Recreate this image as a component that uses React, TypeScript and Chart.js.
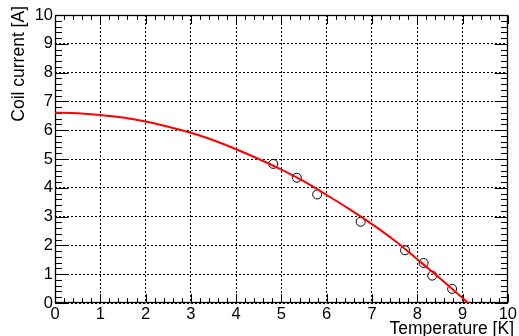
import React, { useEffect, useRef } from "react";
import { Chart, registerables } from "chart.js";

Chart.register(...registerables);

// Fit curve
const T_CURVE = [0, 0.5, 1, 1.5, 2, 2.5, 3, 3.5, 4, 4.5, 5, 5.5, 6, 6.5, 7, 7.5, 8, 8.5, 9, 9.12];
const I_CURVE = [6.61, 6.59, 6.53, 6.44, 6.3, 6.12, 5.91, 5.65, 5.34, 5.0, 4.63, 4.22, 3.75, 3.26, 2.74, 2.17, 1.52, 0.86, 0.17, 0];

// Measured points
const T_MEAS = [4.82, 5.34, 5.79, 6.75, 7.73, 8.14, 8.33, 8.77];
const I_MEAS = [4.83, 4.35, 3.77, 2.82, 1.83, 1.39, 0.95, 0.49];

const X_TITLE = "Temperature [K]";
const Y_TITLE = "Coil current [A]";
const AXIS_MIN = 0;
const AXIS_MAX = 10;

const FONT = "'Liberation Sans', Arial, Helvetica, sans-serif";

const framePlugin = {
  id: "rootFrame",
  beforeDatasetsDraw(chart: any) {
    const { ctx, chartArea, scales } = chart;
    const xs = scales.x;
    const ys = scales.y;
    const L = Math.round(chartArea.left) + 0.5;
    const R = Math.round(chartArea.right) - 0.5;
    const T = Math.round(chartArea.top) + 0.5;
    const B = Math.round(chartArea.bottom) - 0.5;
    ctx.save();
    ctx.strokeStyle = "#000";
    ctx.lineWidth = 1;
    ctx.beginPath();
    for (let k = 0; k <= 50; k++) {
      const v = AXIS_MIN + (k * (AXIS_MAX - AXIS_MIN)) / 50;
      const major = k % 5 === 0;
      const px = Math.round(xs.getPixelForValue(v)) + 0.5;
      const lx = major ? 8.5 : 4.3;
      ctx.moveTo(px, B);
      ctx.lineTo(px, B - lx);
      ctx.moveTo(px, T);
      ctx.lineTo(px, T + lx);
      const py = Math.round(ys.getPixelForValue(v)) + 0.5;
      const ly = major ? 13 : 6.5;
      ctx.moveTo(L, py);
      ctx.lineTo(L + ly, py);
      ctx.moveTo(R, py);
      ctx.lineTo(R - ly, py);
    }
    ctx.stroke();
    ctx.lineWidth = 1.3;
    ctx.strokeRect(L, T, R - L, B - T);
    ctx.restore();
  },
  afterDraw(chart: any) {
    const { ctx } = chart;
    ctx.save();
    ctx.fillStyle = "#000";
    ctx.font = "17.5px " + FONT;
    ctx.textAlign = "right";
    ctx.textBaseline = "alphabetic";
    ctx.fillText(X_TITLE, 514, 333.5);
    ctx.translate(24, 6);
    ctx.rotate(-Math.PI / 2);
    ctx.fillText(Y_TITLE, 0, 0);
    ctx.restore();
  },
};

export default function App() {
  const ref = useRef<HTMLCanvasElement | null>(null);
  useEffect(() => {
    if (!ref.current) return;
    Chart.defaults.font.family = FONT;
    const chart = new Chart(ref.current, {
      type: "scatter",
      data: {
        datasets: [
          {
            label: "measured",
            data: T_MEAS.map((t, i) => ({ x: t, y: I_MEAS[i] })),
            pointStyle: "circle",
            pointRadius: 4.5,
            pointBorderWidth: 1,
            pointBorderColor: "#000",
            pointBackgroundColor: "rgba(0,0,0,0)",
            showLine: false,
            order: 1,
          },
          {
            label: "fit",
            data: T_CURVE.map((t, i) => ({ x: t, y: I_CURVE[i] })),
            showLine: true,
            borderColor: "#ff0000",
            borderWidth: 2,
            pointRadius: 0,
            tension: 0.4,
            cubicInterpolationMode: "monotone",
            order: 0,
          },
        ],
      },
      options: {
        animation: false,
        responsive: false,
        maintainAspectRatio: false,
        events: [],
        layout: { padding: { left: 0, right: 11, top: 15, bottom: 0 } },
        plugins: { legend: { display: false }, tooltip: { enabled: false } },
        scales: {
          x: {
            type: "linear",
            min: AXIS_MIN,
            max: AXIS_MAX,
            afterFit: (s: any) => {
              s.height = 33;
            },
            ticks: {
              stepSize: 1,
              color: "#000",
              font: { size: 16.5, family: FONT },
              padding: 2,
              maxRotation: 0,
              autoSkip: false,
            },
            grid: { color: "#000", lineWidth: 1, drawTicks: false },
            border: { display: false, dash: [2, 2] },
          },
          y: {
            type: "linear",
            min: AXIS_MIN,
            max: AXIS_MAX,
            afterFit: (s: any) => {
              s.width = 55;
            },
            ticks: {
              stepSize: 1,
              color: "#000",
              font: { size: 16.5, family: FONT },
              padding: 2,
              autoSkip: false,
            },
            grid: { color: "#000", lineWidth: 1, drawTicks: false },
            border: { display: false, dash: [2, 2] },
          },
        },
      },
      plugins: [framePlugin],
    } as any);
    return () => chart.destroy();
  }, []);
  return (
    <div style={{ position: "absolute", left: 0, top: 0, width: 519, height: 336, background: "#fff" }}>
      <canvas ref={ref} width={519} height={336} style={{ width: 519, height: 336, display: "block" }} />
    </div>
  );
}
